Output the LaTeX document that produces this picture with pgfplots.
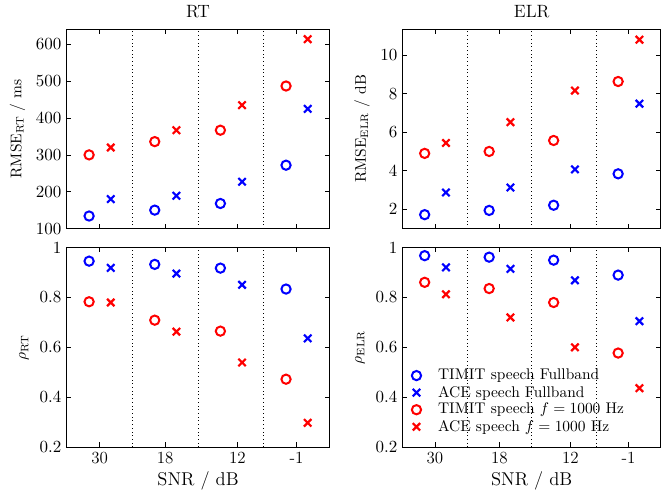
\RequirePackage{fix-cm}
\documentclass[border=0pt]{standalone}
\usepackage{pgfplots}
\pgfplotsset{compat=1.18}
\pgfplotstableread{
x y
0.84 134
1.84 150
2.84 168
3.84 272
}\rtTF
\pgfplotstableread{
x y
1.17 180
2.17 189
3.17 227
4.17 425
}\rtAF
\pgfplotstableread{
x y
0.84 300
1.84 336
2.84 367
3.84 487
}\rtTK
\pgfplotstableread{
x y
1.17 320
2.17 367
3.17 435
4.17 614
}\rtAK
\pgfplotstableread{
x y
0.84 1.72
1.84 1.94
2.84 2.21
3.84 3.84
}\elTF
\pgfplotstableread{
x y
1.17 2.87
2.17 3.13
3.17 4.07
4.17 7.48
}\elAF
\pgfplotstableread{
x y
0.84 4.90
1.84 5.00
2.84 5.57
3.84 8.63
}\elTK
\pgfplotstableread{
x y
1.17 5.44
2.17 6.52
3.17 8.16
4.17 10.8
}\elAK
\pgfplotstableread{
x y
0.84 0.946
1.84 0.933
2.84 0.918
3.84 0.834
}\rrTF
\pgfplotstableread{
x y
1.17 0.919
2.17 0.896
3.17 0.851
4.17 0.636
}\rrAF
\pgfplotstableread{
x y
0.84 0.783
1.84 0.709
2.84 0.665
3.84 0.472
}\rrTK
\pgfplotstableread{
x y
1.17 0.780
2.17 0.663
3.17 0.539
4.17 0.297
}\rrAK
\pgfplotstableread{
x y
0.84 0.968
1.84 0.962
2.84 0.950
3.84 0.890
}\reTF
\pgfplotstableread{
x y
1.17 0.921
2.17 0.915
3.17 0.869
4.17 0.705
}\reAF
\pgfplotstableread{
x y
0.84 0.861
1.84 0.836
2.84 0.780
3.84 0.577
}\reTK
\pgfplotstableread{
x y
1.17 0.813
2.17 0.720
3.17 0.600
4.17 0.436
}\reAK
\pgfplotsset{
  myax/.style={scale only axis, height=129pt,
    xmin=0.5, xmax=4.5, xtick={1,2,3.1,4},
    xticklabels={30,18,12,\textnormal{-1}},
    tick align=inside, tick pos=both,
    major tick length=3pt,
    tick style={black, thin},
    axis line style={black, thin},
    extra x ticks={1.5,2.5,3.5},
    extra x tick labels={},
    extra x tick style={grid=major, major grid style={black, dotted, thin}, major tick length=0pt},
    tick label style={font=\fontsize{11}{13}\selectfont},
    title style={font=\fontsize{11.5}{13}\selectfont, yshift=-2pt},
    label style={font=\fontsize{12}{14}\selectfont},
    xlabel style={yshift=2pt},
    every axis y label/.style={at={(ticklabel cs:0.5)}, rotate=90, anchor=near ticklabel},
  },
  limg/.style={legend image code/.code={\draw[##1, only marks] plot coordinates {(0.2cm,0cm)}; \path[draw=none, fill=none] (0cm,0cm) -- (0.62cm,0cm);}},
  bo/.style={only marks, mark=o, blue, mark size=3pt, line width=1.3pt, limg},
  bx/.style={only marks, mark=x, blue, mark size=3.4pt, line width=1.4pt, limg},
  ro/.style={only marks, mark=o, red, mark size=3pt, line width=1.3pt, limg},
  rx/.style={only marks, mark=x, red, mark size=3.4pt, line width=1.4pt, limg},
}
\begin{document}
\begin{tikzpicture}
\begin{axis}[myax, width=170pt, at={(0,0)}, anchor=north west,
  ymin=100, ymax=641, ytick={100,200,300,400,500,600},
  xticklabels={}, title={RT},
  ylabel={$\mathrm{RMSE}_{\mathrm{RT}}$ / ms}]
\addplot[bo] table {\rtTF};
\addplot[bx] table {\rtAF};
\addplot[ro] table {\rtTK};
\addplot[rx] table {\rtAK};
\end{axis}
\begin{axis}[myax, width=167pt, at={(217.5pt,0)}, anchor=north west,
  ymin=1, ymax=11.34, ytick={2,4,6,8,10},
  xticklabels={}, title={ELR},
  ylabel={$\mathrm{RMSE}_{\mathrm{ELR}}$ / dB}]
\addplot[bo] table {\elTF};
\addplot[bx] table {\elAF};
\addplot[ro] table {\elTK};
\addplot[rx] table {\elAK};
\end{axis}
\begin{axis}[myax, width=170pt, at={(0,-141.4pt)}, anchor=north west,
  ymin=0.2, ymax=1, ytick={0.2,0.4,0.6,0.8,1},
  xlabel={SNR / dB},
  ylabel={$\rho_{\mathrm{RT}}$}]
\addplot[bo] table {\rrTF};
\addplot[bx] table {\rrAF};
\addplot[ro] table {\rrTK};
\addplot[rx] table {\rrAK};
\end{axis}
\begin{axis}[myax, width=167pt, at={(217.5pt,-141.4pt)}, anchor=north west,
  ymin=0.2, ymax=1, ytick={0.2,0.4,0.6,0.8,1},
  xlabel={SNR / dB},
  ylabel={$\rho_{\mathrm{ELR}}$},
  legend style={draw=none, fill=none, at={(0.0,0.035)}, anchor=south west,
    font=\fontsize{10}{11.5}\selectfont, row sep=-1.5pt},
  legend cell align=left]
\addplot[bo] table {\reTF};
\addplot[bx] table {\reAF};
\addplot[ro] table {\reTK};
\addplot[rx] table {\reAK};
\legend{TIMIT speech Fullband, ACE speech Fullband, TIMIT speech $f=1000$ Hz, ACE speech $f=1000$ Hz}
\end{axis}
\path ([yshift=-5pt,xshift=-3pt]current bounding box.south west);
\end{tikzpicture}
\end{document}
